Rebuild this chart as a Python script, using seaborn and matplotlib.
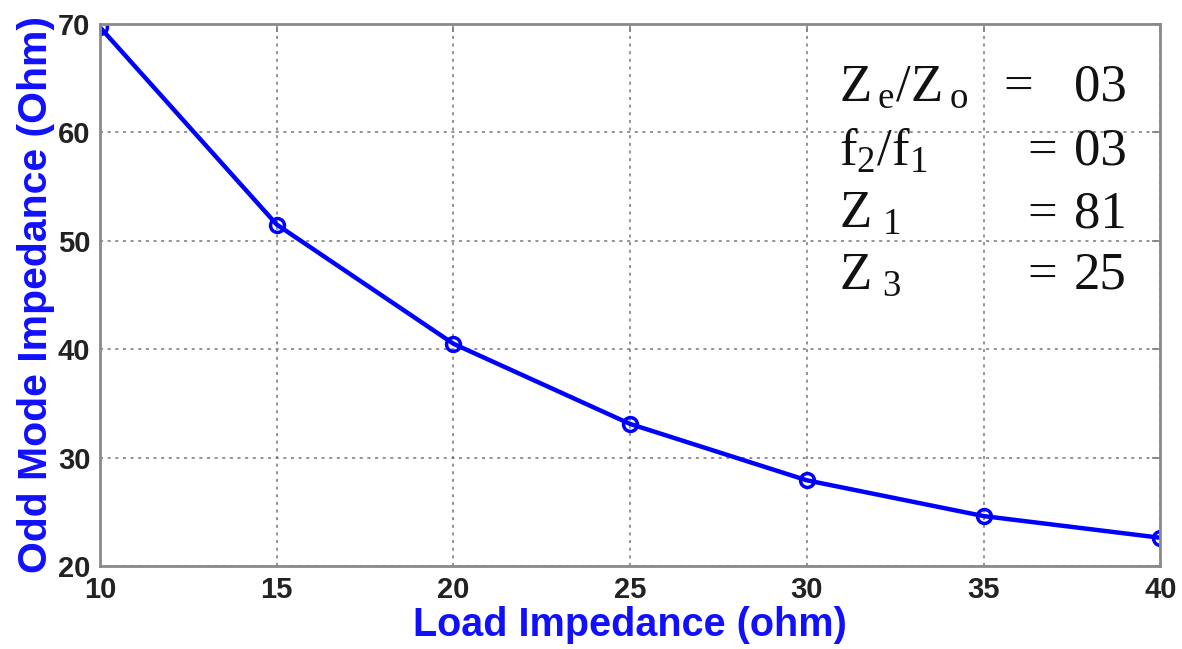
import matplotlib
matplotlib.use("Agg")
import matplotlib.pyplot as plt
import seaborn as sns
import pandas as pd

load_impedance = [10, 15, 20, 25, 30, 35, 40]
odd_mode_impedance = [69.7, 51.5, 40.5, 33.1, 27.9, 24.6, 22.6]

x_ticks = [10, 15, 20, 25, 30, 35, 40]
y_ticks = [20, 30, 40, 50, 60, 70]

param_names = [r"Z$\,_{\rm e}$/Z$\,_{\rm o}$", r"f$_2$/f$_1$", r"Z$\,_{\,1}$", r"Z$\,_{\,3}$"]
param_values = ["03", "03", "81", "25"]

sns.set_style("white")
plt.rcParams["font.family"] = ["Liberation Sans", "DejaVu Sans"]
plt.rcParams["mathtext.fontset"] = "custom"
plt.rcParams["mathtext.rm"] = "Liberation Serif"
plt.rcParams["mathtext.it"] = "Liberation Serif:italic"

df = pd.DataFrame({"load": load_impedance, "odd": odd_mode_impedance})

fig = plt.figure(figsize=(11.82, 6.49), dpi=100)
ax = fig.add_axes([0.0846, 0.128, 0.897, 0.835])

sns.lineplot(data=df, x="load", y="odd", ax=ax, color="#0000ff", linewidth=3.2,
             marker="o", markersize=10, markerfacecolor="none",
             markeredgecolor="#0000ff", markeredgewidth=2.5)

ax.set_xlim(10, 40)
ax.set_ylim(20, 70)
ax.set_xticks(x_ticks)
ax.set_yticks(y_ticks)
ax.tick_params(direction="in", length=6, width=1.2, color="#808080",
               labelsize=21, pad=7, top=True, right=True)
for lab in ax.get_xticklabels() + ax.get_yticklabels():
    lab.set_fontweight("bold")
    lab.set_color("#222222")
ax.grid(True, linestyle=(0, (2, 3)), color="#777777", linewidth=1.1)
for s in ax.spines.values():
    s.set_color("#8a8a8a")
    s.set_linewidth(2)

ax.set_xlabel("Load Impedance (ohm)", fontsize=28.5, fontweight="bold", color="#1010ff", labelpad=2)
ax.set_ylabel("Odd Mode Impedance (Ohm)", fontsize=29.5, fontweight="bold", color="#1010ff", labelpad=2)

y_rows = [64.1, 58.2, 52.4, 46.8]
eq_x = [35.55, 36.25, 36.25, 36.25]
for name, val, yy, ex in zip(param_names, param_values, y_rows, eq_x):
    ax.text(30.9, yy, name, fontsize=38, family="Liberation Serif", va="center", ha="left", color="#111111")
    ax.text(ex, yy, "=", fontsize=38, family="Liberation Serif", va="center", ha="left", color="#111111")
    ax.text(39.05, yy, val, fontsize=38, family="Liberation Serif", va="center", ha="right", color="#111111")

fig.savefig("out.png", dpi=100)
